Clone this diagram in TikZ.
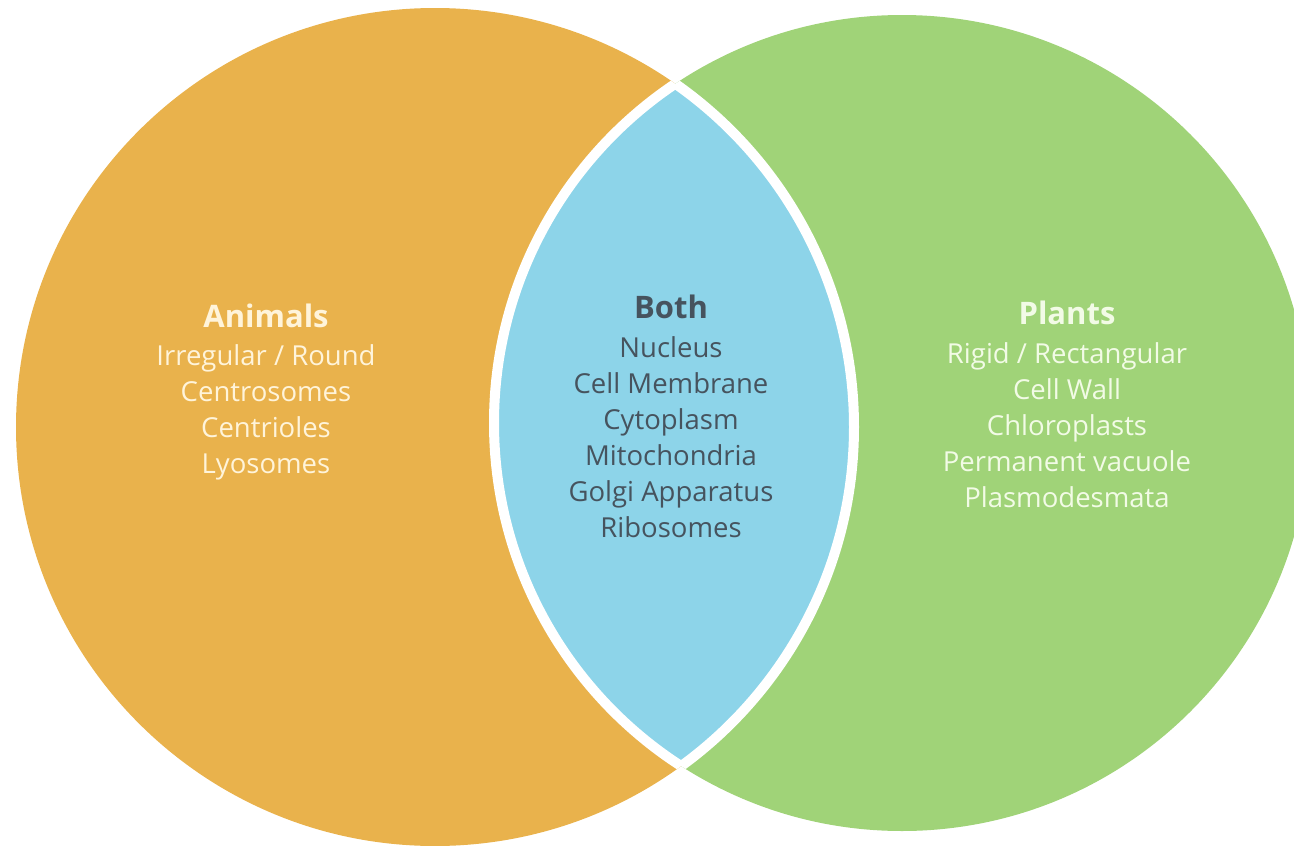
\documentclass[tikz,border=0pt]{standalone}
\usepackage{fontspec}
\setmainfont{Open Sans}
\usetikzlibrary{positioning}

\definecolor{animalorange}{HTML}{E9B24C}
\definecolor{plantgreen}{HTML}{A0D378}
\definecolor{bothblue}{HTML}{8DD4E9}
\definecolor{animaltext}{HTML}{FFF4DA}
\definecolor{planttext}{HTML}{F2FBE6}
\definecolor{bothtext}{HTML}{46535E}

\tikzset{
  item/.style={inner sep=0pt, text height=20pt, text depth=7pt,
    font=\fontsize{27.5}{32}\selectfont},
  heading/.style={item, font=\fontsize{31}{34}\selectfont\bfseries},
}

\begin{document}
\begin{tikzpicture}[x=1pt,y=-1pt,node distance=36pt]
    \useasboundingbox (0,0) rectangle (1294,846);
    \coordinate (lc) at (435,427);
    \coordinate (rc) at (902,423);

    \fill[animalorange] (lc) circle (419pt);
    \fill[plantgreen] (rc) circle (408pt);
    \begin{scope}
      \clip (lc) circle (419pt);
      \fill[bothblue] (rc) circle (408pt);
      \draw[white,line width=10pt] (rc) circle (408pt);
    \end{scope}
    \begin{scope}
      \clip (rc) circle (408pt);
      \draw[white,line width=10pt] (lc) circle (419pt);
    \end{scope}

    \node[heading,animaltext] (animals) at (266,321) {Animals};
    \node[item,animaltext] (a1) [below of=animals,node distance=38pt] {Irregular / Round};
    \node[item,animaltext] (a2) [below of=a1] {Centrosomes};
    \node[item,animaltext] (a3) [below of=a2] {Centrioles};
    \node[item,animaltext] (a4) [below of=a3] {Lyosomes};

    \node[heading,bothtext] (both) at (671,312) {Both};
    \node[item,bothtext] (b1) [below of=both,node distance=39pt] {Nucleus};
    \node[item,bothtext] (b2) [below of=b1] {Cell Membrane};
    \node[item,bothtext] (b3) [below of=b2] {Cytoplasm};
    \node[item,bothtext] (b4) [below of=b3] {Mitochondria};
    \node[item,bothtext] (b5) [below of=b4] {Golgi Apparatus};
    \node[item,bothtext] (b6) [below of=b5] {Ribosomes};

    \node[heading,planttext] (plants) at (1067,318) {Plants};
    \node[item,planttext] (p1) [below of=plants,node distance=39pt] {Rigid / Rectangular};
    \node[item,planttext] (p2) [below of=p1] {Cell Wall};
    \node[item,planttext] (p3) [below of=p2] {Chloroplasts};
    \node[item,planttext] (p4) [below of=p3] {Permanent vacuole};
    \node[item,planttext] (p5) [below of=p4] {Plasmodesmata};
  \end{tikzpicture}
\end{document}
